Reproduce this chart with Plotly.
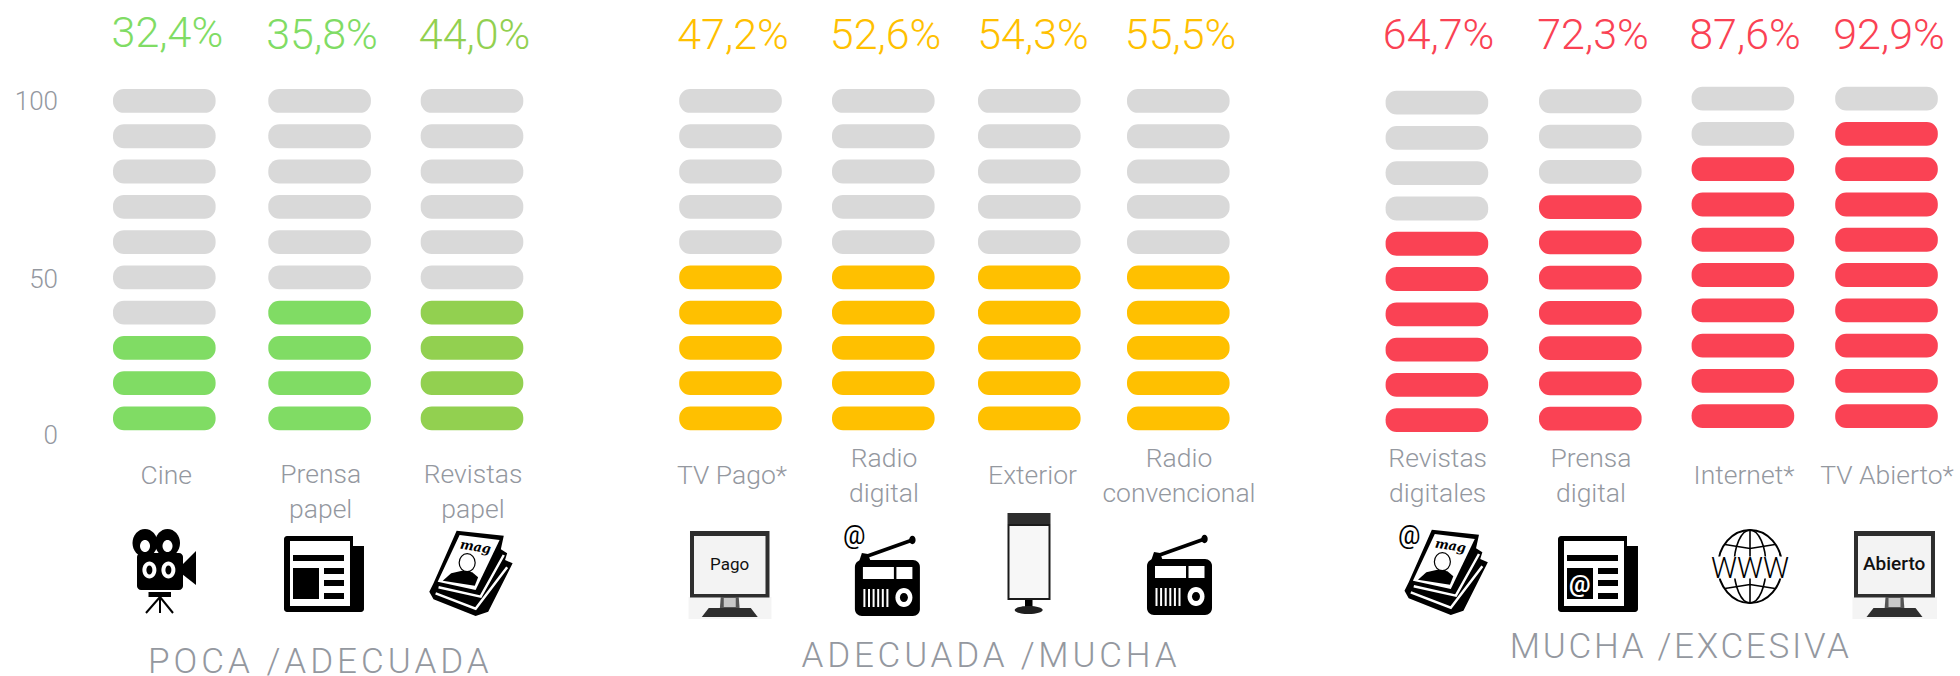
import plotly.graph_objects as go

# ---------- data ----------
categories = ["Cine", "Prensa<br>papel", "Revistas<br>papel",
              "TV Pago*", "Radio<br>digital", "Exterior", "Radio<br>convencional",
              "Revistas<br>digitales", "Prensa<br>digital", "Internet*", "TV Abierto*"]
values = [32.4, 35.8, 44.0, 47.2, 52.6, 54.3, 55.5, 64.7, 72.3, 87.6, 92.9]
filled_pills = [3, 4, 4, 5, 5, 5, 5, 6, 7, 8, 9]
groups = ["POCA /ADECUADA", "ADECUADA /MUCHA", "MUCHA /EXCESIVA"]
tick_labels = ["0", "50", "100"]
TOTAL_PILLS = 10

# ---------- layout constants (pixels of the 1960x676 page) ----------
W, H = 1960, 676
col_x = [164.3, 319.6, 472, 730.5, 883.3, 1029.3, 1178.3, 1436.9, 1590.3, 1742.9, 1886.5]
col_shift = [0, 0, 0, 0, 0, 0, 0, -1.7, -0.3, 2.3, 2.3]
value_x = [167.4, 322, 474.6, 733, 885.6, 1033, 1180.6, 1438.6, 1593, 1745, 1889]
value_y = [36.5, 38, 38, 38, 38, 38, 38, 38, 38, 38, 38]
label_x = [166.2, 320.7, 473, 732, 884, 1032.5, 1179, 1437.7, 1591, 1744, 1887]
label_y = [477.5, 494, 494, 477.5, 478, 477.5, 478, 478, 478, 477.5, 477.5]
tick_px = [435, 279, 101]
group_pos = [(320, 661.5), (990.5, 655.5), (1680, 646.7)]
group_spacing = [4, 3.8, 2.7]
PILL_W, PILL_H, STEP = 102.6, 23.8, 35.27
ZERO_PX = 436.1
AXIS_X = 58

GREY = "#D9D9D9"
GREEN, LIME, AMBER, RED = "#80DC64", "#92D050", "#FFC000", "#FA4254"
col_colors = [GREEN, GREEN, LIME] + [AMBER] * 4 + [RED] * 4
TEXT = "#94989F"
FONT = "Roboto"
INK = "#000000"

to_unit = lambda py: (ZERO_PX - py) / STEP * 10

fig = go.Figure()

# pills: one bar per level of the 0-100 scale
for i, cat in enumerate(categories):
    bases = [to_unit(430.3 - col_shift[i] - k * STEP) for k in range(TOTAL_PILLS)]
    fig.add_bar(
        x=[col_x[i]] * TOTAL_PILLS,
        y=[PILL_H / STEP * 10] * TOTAL_PILLS,
        base=bases,
        width=PILL_W,
        marker=dict(color=[col_colors[i] if k < filled_pills[i] else GREY for k in range(TOTAL_PILLS)],
                    cornerradius=11, line_width=0),
        name=cat.replace("<br>", " "),
        hoverinfo="skip",
    )

# percentage labels
for i, v in enumerate(values):
    fig.add_scatter(
        x=[value_x[i]], y=[to_unit(value_y[i])], mode="text",
        text=[f"{v:.1f}%".replace(".", ",")],
        textposition="middle center",
        textfont=dict(family=FONT, size=43, color=col_colors[i], weight=300),
        hoverinfo="skip",
    )

# category labels
fig.add_scatter(
    x=label_x, y=[to_unit(p) for p in label_y], mode="text", text=categories,
    textposition="middle center",
    textfont=dict(family=FONT, size=26.5, color=TEXT, weight=300),
    hoverinfo="skip",
)

shapes, annos = [], []
fx = lambda x: x / W
fy = lambda y: 1 - y / H


def pth(points, close=True):
    d = "M" + " L".join(f"{fx(x):.5f},{fy(y):.5f}" for x, y in points)
    return d + (" Z" if close else "")


def add_path(d, fill=None, line=None, lw=0):
    s = dict(type="path", path=d, xref="paper", yref="paper", layer="above",
             line=dict(color=line or "rgba(0,0,0,0)", width=lw))
    s["fillcolor"] = fill if fill else "rgba(0,0,0,0)"
    shapes.append(s)


def poly(points, fill=INK):
    add_path(pth(points), fill=fill)


def polyline(points, color=INK, lw=2):
    add_path(pth(points, close=False), line=color, lw=lw)


def rect(x0, y0, x1, y1, fill=INK):
    poly([(x0, y0), (x1, y0), (x1, y1), (x0, y1)], fill)


def round_rect(x0, y0, x1, y1, r, fill=INK):
    k = 0.55 * r
    p = lambda x, y: f"{fx(x):.5f},{fy(y):.5f}"
    d = (f"M{p(x0 + r, y0)} L{p(x1 - r, y0)} C{p(x1 - r + k, y0)} {p(x1, y0 + r - k)} {p(x1, y0 + r)} "
         f"L{p(x1, y1 - r)} C{p(x1, y1 - r + k)} {p(x1 - r + k, y1)} {p(x1 - r, y1)} "
         f"L{p(x0 + r, y1)} C{p(x0 + r - k, y1)} {p(x0, y1 - r + k)} {p(x0, y1 - r)} "
         f"L{p(x0, y0 + r)} C{p(x0, y0 + r - k)} {p(x0 + r - k, y0)} {p(x0 + r, y0)} Z")
    add_path(d, fill=fill)


def ellipse(cx, cy, rx, ry, fill=INK, line=None, lw=0):
    kx, ky = 0.5523 * rx, 0.5523 * ry
    p = lambda x, y: f"{fx(x):.5f},{fy(y):.5f}"
    d = (f"M{p(cx - rx, cy)} C{p(cx - rx, cy - ky)} {p(cx - kx, cy - ry)} {p(cx, cy - ry)} "
         f"C{p(cx + kx, cy - ry)} {p(cx + rx, cy - ky)} {p(cx + rx, cy)} "
         f"C{p(cx + rx, cy + ky)} {p(cx + kx, cy + ry)} {p(cx, cy + ry)} "
         f"C{p(cx - kx, cy + ry)} {p(cx - rx, cy + ky)} {p(cx - rx, cy)} Z")
    add_path(d, fill=fill, line=line, lw=lw)


def txt(x, y, s, size, color=INK, weight=400, angle=0, family=FONT, italic=False):
    annos.append(dict(x=fx(x), y=fy(y), xref="paper", yref="paper", text=s, showarrow=False,
                      xanchor="center", yanchor="middle", textangle=angle,
                      font=dict(family=family, size=size, color=color, weight=weight,
                                style="italic" if italic else "normal")))


def camera():
    ellipse(145, 543, 12.5, 14)
    ellipse(167.5, 543, 12.5, 14)
    ellipse(145, 546, 5, 6, "#FFFFFF")
    ellipse(167.5, 546, 5, 6, "#FFFFFF")
    round_rect(137, 553, 183, 590, 4)
    poly([(182, 565), (196, 551), (196, 585), (182, 574)])
    for cx in (149.4, 168.4):
        ellipse(cx, 570, 7, 8.5, "#FFFFFF")
        ellipse(cx, 570, 3, 4.5)
    rect(148.5, 592, 171, 597)
    for ex in (146, 160, 173):
        polyline([(160, 597), (ex, 613)], lw=2)


def newspaper(x0, at=False):
    round_rect(x0, 536, x0 + 80, 612, 3)
    rect(x0 + 69, 536, x0 + 81, 546, "#FFFFFF")
    rect(x0 + 6, 541, x0 + 66, 606, "#FFFFFF")
    rect(x0 + 9, 555, x0 + 60, 561)
    rect(x0 + 9, 568, x0 + 35, 599)
    for y0 in (568, 580, 593):
        rect(x0 + 40, y0, x0 + 60, y0 + 6)
    if at:
        txt(x0 + 22, 583.5, "@", 24, "#FFFFFF", 700)


def magazine(dx, dy):
    Z = lambda zx, zy: (zx / 2.376 + dx, 340 + zy / 3 + dy)
    pts = lambda *a: [Z(*q) for q in a]
    poly(pts((1085, 572), (1197, 587), (1190, 628), (1205, 640), (1200, 660), (1218, 670),
             (1160, 815), (1130, 828), (1030, 778), (1020, 755), (1030, 730)))
    poly(pts((1092, 585), (1187, 600), (1130, 750), (1040, 725)), "#FFFFFF")
    polyline(pts((1042, 742), (1142, 770), (1197, 645)), "#FFFFFF", 2.5)
    polyline(pts((1035, 760), (1130, 806), (1205, 682)), "#FFFFFF", 2.5)
    poly(pts((1052, 722), (1072, 700), (1098, 692), (1122, 697), (1136, 712), (1128, 737)))
    cx, cy = Z(1110, 668)
    ellipse(cx, cy, 8, 9, "#FFFFFF", INK, 1.2)
    x, y = Z(1130, 618)
    txt(x, y, "mag", 13, INK, 700, angle=9, family="DejaVu Serif", italic=True)


def tv(x0, x1, label, size, weight=400):
    rect(x0 - 1.5, 597, x1 + 2, 619, "#F4F4F4")
    rect(x0, 531, x1, 597.5, "#2E2E2E")
    rect(x0 + 4, 536, x1 - 4, 594, "#F3F3F3")
    c = (x0 + x1) / 2
    poly([(c - 9, 597), (c + 9, 597), (c + 10, 610), (c - 10, 610)], "#555555")
    rect(c - 6, 598, c + 6, 607, "#C8C8C8")
    poly([(c - 21, 608), (c + 21, 608), (c + 28, 617), (c - 28, 617)], "#2E2E2E")
    txt(c, 563.5, label, size, "#111111", weight)


def radio(dx, dy):
    x0, y0 = 854.9 + dx, 560 + dy
    polyline([(x0 + 7, y0 - 2), (x0 + 57.5, y0 - 20)], lw=3.5)
    ellipse(x0 + 57.5, y0 - 20, 3.2, 4.2)
    poly([(x0 + 4, y0 + 2), (x0 + 7, y0 - 7), (x0 + 13, y0 - 6), (x0 + 16, y0 + 2)])
    round_rect(x0, y0, x0 + 65, y0 + 56, 7)
    rect(x0 + 8, y0 + 7, x0 + 39, y0 + 19, "#FFFFFF")
    rect(x0 + 41.5, y0 + 7, x0 + 57.5, y0 + 19, "#FFFFFF")
    for i in range(6):
        sx = x0 + 8.5 + i * 4.6
        rect(sx, y0 + 29, sx + 2, y0 + 47, "#FFFFFF")
    ellipse(x0 + 49, y0 + 37.5, 8.5, 9.5, "#FFFFFF")
    ellipse(x0 + 49, y0 + 37.5, 4, 4.6)


def billboard():
    rect(1007.5, 513, 1050.5, 524, "#2E2E2E")
    rect(1007.5, 524, 1050.5, 600, "#1A1A1A")
    rect(1009.5, 526, 1048.5, 598, "#F7F7F7")
    rect(1025, 600, 1032.5, 609)
    ellipse(1028.7, 610, 14, 4, "#1F1F1F")


def globe():
    cx, cy, rx, ry = 1750, 566.5, 32, 36.5
    ellipse(cx, cy, rx, ry, None, INK, 2)
    ellipse(cx, cy, rx * 0.5, ry, None, INK, 1.6)
    polyline([(cx, cy - ry), (cx, cy + ry)], lw=1.6)
    polyline([(cx - 25, cy - 22), (cx, cy - 18), (cx + 25, cy - 22)], lw=1.6)
    polyline([(cx - 25, cy + 22), (cx, cy + 18), (cx + 25, cy + 22)], lw=1.6)
    rect(cx - 33, cy - 10, cx + 33, cy + 12, "#FFFFFF")
    txt(cx, cy + 1, "WWW", 29, INK, 300)


camera()
newspaper(284)
magazine(0, 0)
tv(690, 769.5, "Pago", 17)
radio(0, 0)
txt(854.4, 535.5, "@", 25, INK, 400)
billboard()
radio(292.1, -1)
magazine(975.2, -1)
txt(1409, 535, "@", 25, INK, 400)
newspaper(1558, at=True)
globe()
tv(1854, 1935, "Abierto", 19, 500)

# group captions
for name, (x, y) in zip(groups, group_pos):
    txt(x, y, name, 35, TEXT, 300)

fig.update_layout(
    width=W, height=H, autosize=False,
    margin=dict(l=0, r=0, t=0, b=0, pad=0),
    paper_bgcolor="#FFFFFF", plot_bgcolor="#FFFFFF",
    showlegend=False, barmode="overlay",
    shapes=shapes, annotations=annos,
    xaxis=dict(range=[0, W], visible=False, fixedrange=True),
    yaxis=dict(range=[to_unit(H), to_unit(0)], anchor="free", position=AXIS_X / W,
               showgrid=False, zeroline=False, showline=False, ticks="",
               tickmode="array", tickvals=[to_unit(p) for p in tick_px], ticktext=tick_labels,
               tickfont=dict(family=FONT, size=26, color=TEXT, weight=300),
               fixedrange=True),
)

spacing_js = "{" + ",".join(f"'{g}':'{s}px'" for g, s in zip(groups, group_spacing)) + "}"
fig.write_html(
    "out.html",
    config=dict(displayModeBar=False),
    post_script="document.body.style.margin='0';document.body.style.overflow='hidden';"
                f"var sp={spacing_js};"
                "document.querySelectorAll('.annotation-text').forEach(function(t){"
                "if(sp[t.textContent]){t.style.letterSpacing=sp[t.textContent];}});",
)
